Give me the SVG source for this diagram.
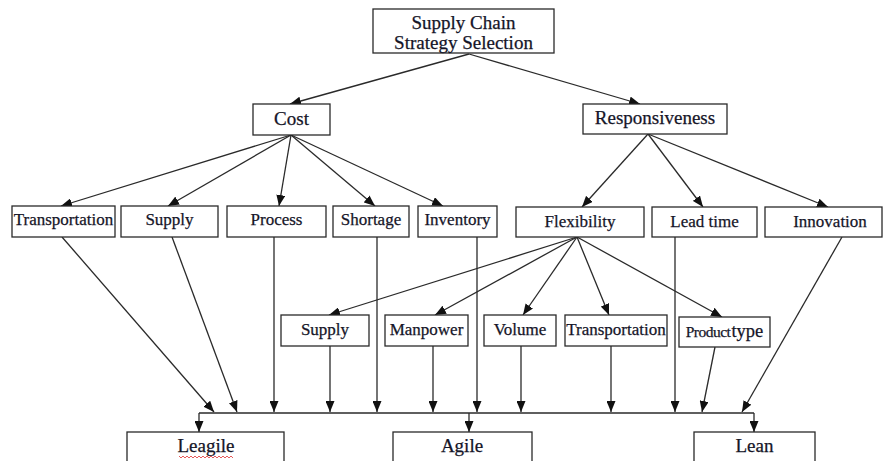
<svg xmlns="http://www.w3.org/2000/svg" width="885" height="461" viewBox="0 0 885 461">
<style>
.box{fill:#fff;stroke:#2a2a2a;stroke-width:1.3}
.t{font-family:"Liberation Serif","Times New Roman",serif;fill:#151528;text-anchor:middle;stroke:#151528;stroke-width:0.25}
.l{font-size:19px}
.m{font-size:17px}
.b{font-size:19px}
.c{fill:none;stroke:#2a2a2a;stroke-width:1.3;marker-end:url(#ah)}
.n{fill:none;stroke:#2a2a2a;stroke-width:1.3}
</style>
<defs>
<marker id="ah" markerUnits="userSpaceOnUse" markerWidth="11" markerHeight="9" refX="11" refY="4.5" orient="auto">
<path d="M0,0 L11,4.5 L0,9 z" fill="#111"/>
</marker>
</defs>
<rect width="885" height="461" fill="#fff"/>
<g id="connectors">
<path class="c" d="M469,54 L290,104"/>
<path class="c" d="M469,54 L640,104"/>
<path class="c" d="M291,135 L61,206"/>
<path class="c" d="M291,135 L168,206"/>
<path class="c" d="M291,135 L279,206"/>
<path class="c" d="M291,135 L375,206"/>
<path class="c" d="M291,135 L443,206"/>
<path class="c" d="M648,134 L582,207"/>
<path class="c" d="M648,134 L703,207"/>
<path class="c" d="M648,134 L828,207"/>
<path class="c" d="M577,237 L329,315"/>
<path class="c" d="M577,237 L435,315"/>
<path class="c" d="M577,237 L523,315"/>
<path class="c" d="M577,237 L609,315"/>
<path class="c" d="M577,237 L722,317"/>
<path class="c" d="M62,237 L214,412"/>
<path class="c" d="M172,237 L237,412"/>
<path class="c" d="M274,237 L274,412"/>
<path class="c" d="M330,346 L330,412"/>
<path class="c" d="M377,237 L377,412"/>
<path class="c" d="M433,346 L433,412"/>
<path class="c" d="M477,237 L477,412"/>
<path class="c" d="M521,346 L521,412"/>
<path class="c" d="M611,346 L611,412"/>
<path class="c" d="M675,237 L675,412"/>
<path class="c" d="M715,347 L702,412"/>
<path class="c" d="M842,237 L742,412"/>
<path class="n" d="M199,413 H754"/>
<path class="c" d="M199,413 V432"/>
<path class="c" d="M754,413 V432"/>
<path class="c" d="M469,413 V432"/>
</g>
<g id="n-top"><rect class="box" x="373" y="9" width="181" height="44"/><text class="t l" x="463.5" y="29">Supply Chain</text><text class="t l" x="463.5" y="49">Strategy Selection</text></g>
<g id="n-cost"><rect class="box" x="253" y="104" width="77" height="31"/><text class="t l" x="291.5" y="125">Cost</text></g>
<g id="n-resp"><rect class="box" x="583" y="104" width="144" height="30"/><text class="t l" x="655" y="124">Responsiveness</text></g>
<g id="n-transportation"><rect class="box" x="12" y="206" width="103" height="31"/><text class="t m" x="63.5" y="225">Transportation</text></g>
<g id="n-supply"><rect class="box" x="121" y="206" width="97" height="31"/><text class="t m" x="169.5" y="225">Supply</text></g>
<g id="n-process"><rect class="box" x="227" y="206" width="99" height="31"/><text class="t m" x="276.5" y="225">Process</text></g>
<g id="n-shortage"><rect class="box" x="333" y="206" width="76" height="31"/><text class="t m" x="371" y="225">Shortage</text></g>
<g id="n-inventory"><rect class="box" x="418" y="206" width="79" height="31"/><text class="t m" x="457.5" y="225">Inventory</text></g>
<g id="n-flexibility"><rect class="box" x="516" y="207" width="128" height="30"/><text class="t m" x="580" y="227">Flexibility</text></g>
<g id="n-leadtime"><rect class="box" x="652" y="207" width="105" height="30"/><text class="t m" x="704.5" y="227">Lead time</text></g>
<g id="n-innovation"><rect class="box" x="765" y="207" width="117" height="30"/><text class="t m" x="830" y="227">Innovation</text></g>
<g id="n-supply2"><rect class="box" x="281" y="315" width="88" height="31"/><text class="t m" x="325" y="335">Supply</text></g>
<g id="n-manpower"><rect class="box" x="385" y="315" width="83" height="31"/><text class="t m" x="426.5" y="335">Manpower</text></g>
<g id="n-volume"><rect class="box" x="484" y="315" width="72" height="31"/><text class="t m" x="520" y="335">Volume</text></g>
<g id="n-transportation2"><rect class="box" x="565" y="315" width="102" height="31"/><text class="t m" x="616" y="335">Transportation</text></g>
<g id="n-producttype"><rect class="box" x="679" y="317" width="91" height="30"/><text class="t" x="724.5" y="337"><tspan style="font-size:15.5px;letter-spacing:-0.5px">Product</tspan><tspan style="font-size:18.5px" dx="1">type</tspan></text></g>
<g id="n-leagile"><rect class="box" x="127" y="432" width="157" height="40"/><text class="t b" x="206" y="452">Leagile</text><path d="M179,456 l2,2 l2,-2 l2,2 l2,-2 l2,2 l2,-2 l2,2 l2,-2 l2,2 l2,-2 l2,2 l2,-2 l2,2 l2,-2 l2,2 l2,-2 l2,2 l2,-2 l2,2 l2,-2 l2,2 l2,-2 l2,2 l2,-2 l2,2 l2,-2 l2,2" fill="none" stroke="#e03030" stroke-width="0.8"/></g>
<g id="n-agile"><rect class="box" x="393" y="432" width="139" height="40"/><text class="t b" x="462" y="452">Agile</text></g>
<g id="n-lean"><rect class="box" x="694" y="432" width="121" height="40"/><text class="t b" x="754.5" y="452">Lean</text></g>
</svg>
